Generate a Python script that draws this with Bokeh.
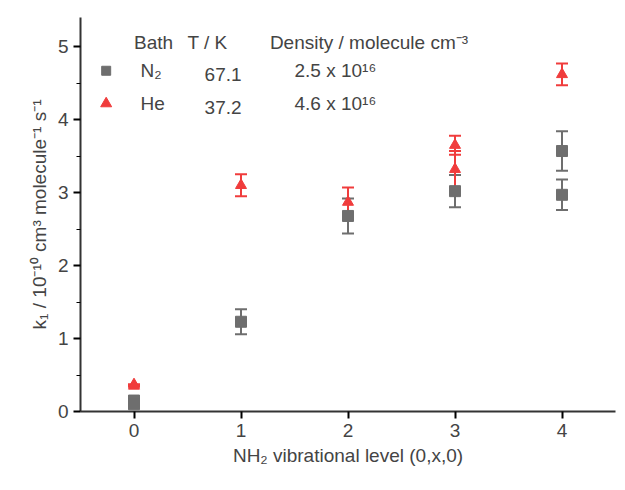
from bokeh.plotting import figure
from bokeh.models import Whisker, ColumnDataSource, Range1d, FixedTicker, Label
from bokeh.embed import file_html
from bokeh.resources import INLINE

n2_x = [0, 0, 1, 2, 3, 4, 4]
n2_y = [0.15, 0.10, 1.23, 2.68, 3.02, 3.57, 2.97]
n2_err = [0.0, 0.0, 0.17, 0.24, 0.22, 0.27, 0.21]
he_x = [0, 0, 1, 2, 3, 3, 4]
he_y = [0.37, 0.35, 3.10, 2.87, 3.65, 3.32, 4.62]
he_err = [0.0, 0.0, 0.15, 0.20, 0.13, 0.25, 0.15]

FONT = "Liberation Sans"
FS = "19px"
p = figure(width=617, height=474, output_backend="svg", toolbar_location=None,
           x_range=Range1d(-0.5, 4.5), y_range=Range1d(0, 5.4))
p.min_border_left = 80
p.min_border_bottom = 63
p.min_border_top = 17
p.min_border_right = 2
p.outline_line_color = None
p.grid.visible = False
p.xaxis.ticker = FixedTicker(ticks=[0, 1, 2, 3, 4])
p.yaxis.ticker = FixedTicker(ticks=[0, 1, 2, 3, 4, 5], minor_ticks=[0.5, 1.5, 2.5, 3.5, 4.5])
for ax in (p.xaxis[0], p.yaxis[0]):
    ax.axis_line_width = 2
    ax.axis_line_color = "#333333"
    ax.major_tick_line_width = 2
    ax.major_tick_out = 7
    ax.major_tick_in = 0
    ax.minor_tick_out = 4
    ax.minor_tick_in = 0
    ax.major_label_text_font = FONT
    ax.major_label_text_font_size = FS
    ax.axis_label_text_font = FONT
    ax.axis_label_text_font_size = FS
    ax.axis_label_text_font_style = "normal"
p.xaxis.axis_label = "NH₂ vibrational level (0,x,0)"
p.yaxis.axis_label = "k₁ / 10⁻¹⁰ cm³ molecule⁻¹ s⁻¹"

def series(xs, ys, es, color, marker):
    src = ColumnDataSource(dict(x=xs, y=ys, lo=[a - b for a, b in zip(ys, es)],
                                hi=[a + b for a, b in zip(ys, es)]))
    w = Whisker(source=src, base="x", upper="hi", lower="lo", line_color=color, line_width=2)
    w.upper_head.line_color = color; w.lower_head.line_color = color
    w.upper_head.size = 12; w.lower_head.size = 12
    w.upper_head.line_width = 2; w.lower_head.line_width = 2
    p.add_layout(w)
    p.scatter("x", "y", source=src, marker=marker, size=11, color=color)

series(n2_x, n2_y, n2_err, "#6e6e6e", "square")
series(he_x, he_y, he_err, "#f03c3c", "triangle")

p.scatter([-0.26], [4.67], marker="square", size=9, color="#6e6e6e")
p.scatter([-0.26], [4.22], marker="triangle", size=11, color="#f03c3c")
for x, y, t in [(0.0, 4.92, "Bath"), (0.5, 4.92, "T / K"), (1.27, 4.92, "Density / molecule cm⁻³"),
                (0.06, 4.53, "N₂"), (0.66, 4.53, "67.1"), (1.5, 4.53, "2.5 x 10¹⁶"),
                (0.06, 4.08, "He"), (0.66, 4.08, "37.2"), (1.5, 4.08, "4.6 x 10¹⁶")]:
    p.add_layout(Label(x=x, y=y, text=t, text_font=FONT, text_font_size=FS))

open("out.html", "w").write(file_html(p, INLINE))
